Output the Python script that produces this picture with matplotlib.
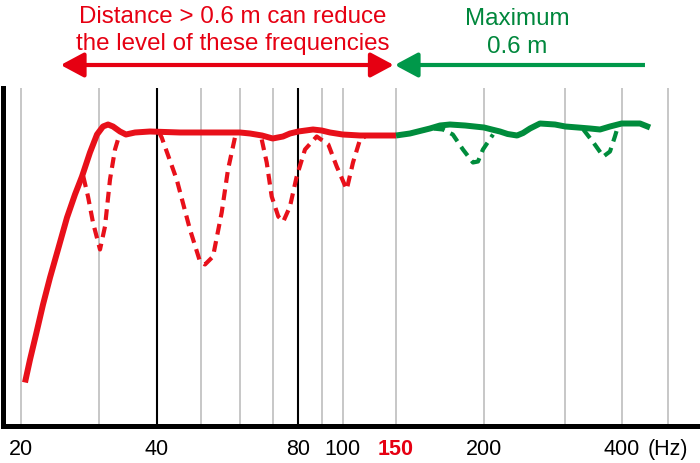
import numpy as np
import matplotlib
matplotlib.use('Agg')
import matplotlib.pyplot as plt
from matplotlib.ticker import NullLocator

# ---------------- data ----------------
grid_freqs = [20, 30, 50, 60, 70, 90, 100, 150, 200, 300, 400, 500]
marker_freqs = [40, 80]
tick_freqs = [20, 40, 80, 100, 150, 200, 400, 500]
tick_labels = ['20', '40', '80', '100', '150', '200', '400', '(Hz)']

# solid red response (relative level)
red_f = [20.45, 20.99, 21.65, 22.45, 23.28, 24.26, 25.42, 26.49, 27.47, 28.63,
         29.69, 30.6, 31.38, 32.17, 33.31, 34.32, 35.9, 38.68, 45, 50, 56.73,
         60, 62.9, 66.56, 70, 73.86, 76.6, 80, 86.15, 90, 93.83, 100, 114.1,
         127.9, 150]
red_lv = [43, 66, 91, 121, 148, 176, 208, 231, 249, 273,
          291, 299, 301, 299, 294, 291, 293, 294, 293, 293, 293,
          293, 292, 290, 287, 289, 292, 294, 296, 295, 293, 291, 290,
          290, 290]

# solid green response
green_f = [150, 157, 162.2, 167.6, 173.2, 178.9, 188, 200, 208, 216.6, 225,
           235.8, 243, 251.6, 264.4, 285, 300, 320, 340.3, 358.1, 376.8, 400,
           437.1, 458.9]
green_lv = [290, 292, 294.5, 297, 300, 301, 300, 298, 296, 294, 291.5,
            290, 292.5, 297, 302, 301, 299, 298, 297, 296, 299, 302,
            302, 298]

# dashed red notches (distance > 0.6 m)
red_dip1_f = [27.66, 28.34, 29.08, 30.15, 30.91, 31.69, 32.49, 32.98, 33.81]
red_dip1_lv = [249, 229, 203, 176, 199, 246, 276, 286, 292]
red_dip2_f = [40.5, 41.02, 44.24, 47.3, 49.75, 50.94, 52.89, 55.08, 56.73, 58.6]
red_dip2_lv = [293, 288, 246, 196, 164, 161, 169, 213, 256, 288]
red_dip3_f = [66.47, 68.05, 69.67, 72.07, 73.98, 76.6, 79.33, 82.74, 87.77,
              93.04, 97.04, 103.1, 108.15, 114.1, 118.5]
red_dip3_lv = [286, 263, 229, 209, 204, 219, 249, 276, 289,
               281, 259, 236, 263, 286, 289]

# dashed green notches
green_dip1_f = [160.5, 169.3, 174.9, 180.6, 186.7, 192.9, 196.1, 199.3, 209.2]
green_dip1_lv = [294, 297, 296, 291, 276, 263, 264, 276, 291]
green_dip2_f = [328.9, 346.2, 364.2, 376.8, 386.4, 390.5]
green_dip2_lv = [296, 283, 269, 274, 289, 296]

# arrow spans (Hz)
red_span = (24.6, 147.5)
green_span = (447.8, 148.5)

# ---------------- scale (drawing's frequency axis) ----------------
_anchor_f = np.log10([10, 20, 30, 40, 50, 60, 70, 80, 90, 100, 150, 200, 300, 400, 500, 1000])
_anchor_p = np.array([-113.1, 20.7, 99, 156.7, 201, 240, 272.7, 298.3, 321.7, 342.7,
                      396, 484, 565.3, 621.7, 667.7, 810.6])


def fwd(f):
    f = np.clip(np.asarray(f, dtype=float), 1e-3, None)
    return np.interp(np.log10(f), _anchor_f, _anchor_p)


def inv(p):
    return 10 ** np.interp(np.asarray(p, dtype=float), _anchor_p, _anchor_f)


FONT = ['Liberation Sans', 'DejaVu Sans']
plt.rcParams['font.family'] = FONT

RED = '#e8101a'
RED_T = '#e60012'
GREEN = '#008c3c'
GREEN_T = '#00873c'

W, H = 700, 464
fig = plt.figure(figsize=(W / 100, H / 100), dpi=100)
ax = fig.add_axes([2.5 / W, (H - 426.5) / H, (W - 2.5) / W, 338 / H])
ax.set_xscale('function', functions=(fwd, inv))
ax.set_xlim(float(inv(2.5)), float(inv(700)))
ax.set_ylim(0, 338)

for f in grid_freqs:
    ax.axvline(f, color='#bdbdbd', lw=1.2, zorder=1)
for f in marker_freqs:
    ax.axvline(f, color='black', lw=1.5, zorder=1)

dash = (2.6, 1.6)
ax.plot(red_dip1_f, red_dip1_lv, color=RED, lw=3.0, dashes=dash, zorder=3)
ax.plot(red_dip2_f, red_dip2_lv, color=RED, lw=3.0, dashes=dash, zorder=3)
ax.plot(red_dip3_f, red_dip3_lv, color=RED, lw=3.0, dashes=dash, zorder=3)
ax.plot(green_dip1_f, green_dip1_lv, color=GREEN, lw=3.0, dashes=dash, zorder=3)
ax.plot(green_dip2_f, green_dip2_lv, color=GREEN, lw=3.0, dashes=dash, zorder=3)
ax.plot(red_f, red_lv, color=RED, lw=4.3, solid_joinstyle='round',
        solid_capstyle='butt', zorder=4)
ax.plot(green_f, green_lv, color=GREEN, lw=4.3, solid_joinstyle='round',
        solid_capstyle='butt', zorder=4)

# axes styling
for s in ['top', 'right']:
    ax.spines[s].set_visible(False)
for s in ['left', 'bottom']:
    ax.spines[s].set_linewidth(3.6)
    ax.spines[s].set_color('black')
    ax.spines[s].set_capstyle('projecting')
ax.set_yticks([])
ax.xaxis.set_minor_locator(NullLocator())
ax.set_xticks(tick_freqs, tick_labels)
ax.tick_params(axis='x', length=0, pad=9, labelsize=15.5, colors='black')
for lab in ax.get_xticklabels():
    if lab.get_text() == '150':
        lab.set_color(RED_T)
        lab.set_fontweight('bold')

# arrows
ya = (426.5 - 66) / 338
ax.annotate('', xy=(red_span[1], ya), xytext=(red_span[0], ya),
            xycoords=('data', 'axes fraction'), textcoords=('data', 'axes fraction'),
            annotation_clip=False,
            arrowprops=dict(arrowstyle='<|-|>,head_length=1.4,head_width=0.75',
                            mutation_scale=10, color=RED_T, lw=3,
                            shrinkA=0, shrinkB=0))
ax.annotate('', xy=(green_span[1], ya), xytext=(green_span[0], ya),
            xycoords=('data', 'axes fraction'), textcoords=('data', 'axes fraction'),
            annotation_clip=False,
            arrowprops=dict(arrowstyle='-|>,head_length=1.4,head_width=0.75',
                            mutation_scale=10, color='#00984a', lw=3,
                            shrinkA=0, shrinkB=0, capstyle='butt'))

# texts
TS = 17.4
fig.text(233 / W, 1 - 23 / H, 'Distance > 0.6 m can reduce', color=RED_T,
         fontsize=TS, ha='center', va='baseline')
fig.text(233 / W, 1 - 50 / H, 'the level of these frequencies', color=RED_T,
         fontsize=TS, ha='center', va='baseline')
fig.text(517 / W, 1 - 25 / H, 'Maximum', color=GREEN_T,
         fontsize=TS, ha='center', va='baseline')
fig.text(517 / W, 1 - 53 / H, '0.6 m', color=GREEN_T,
         fontsize=TS, ha='center', va='baseline')

fig.savefig('out.png', dpi=100)
